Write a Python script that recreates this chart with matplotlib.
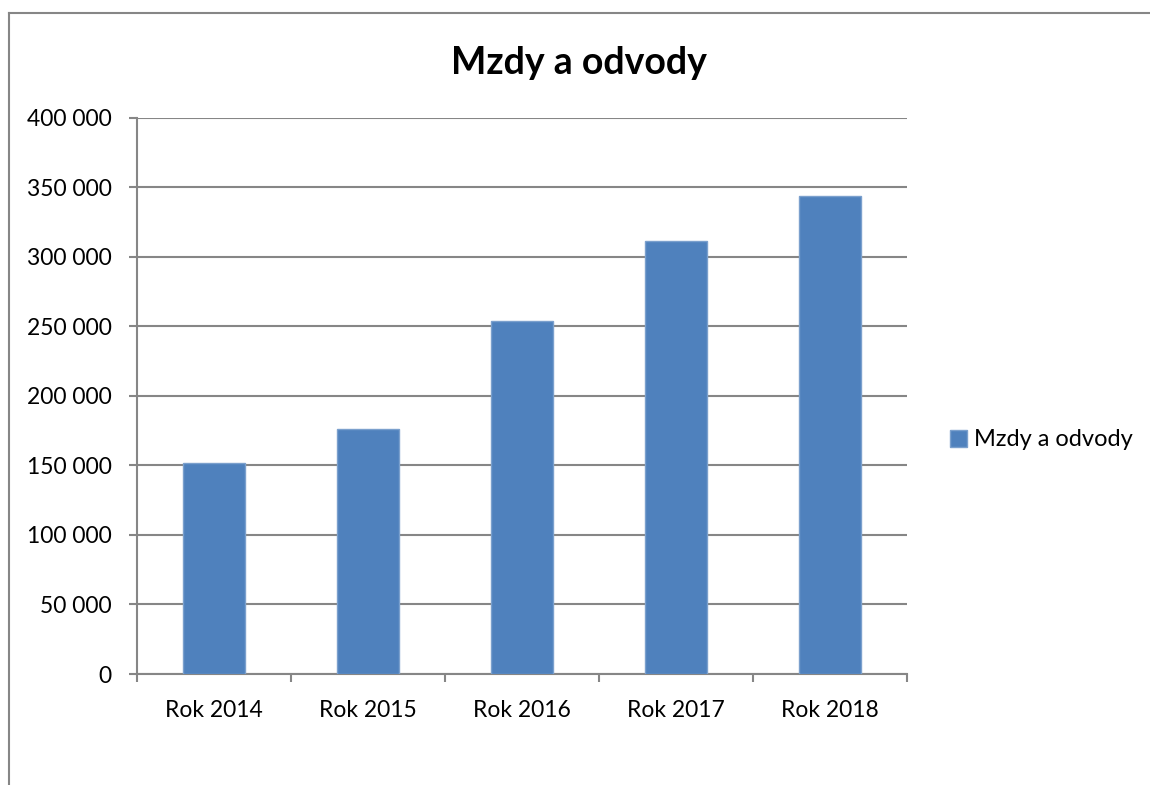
import matplotlib.pyplot as plt
import matplotlib.ticker as mticker
from matplotlib.lines import Line2D
import numpy as np

plt.rcParams['font.family'] = ['Lato', 'DejaVu Sans']

years = ["Rok 2014", "Rok 2015", "Rok 2016", "Rok 2017", "Rok 2018"]
values = [151700, 176300, 253900, 311500, 344000]
series_name = "Mzdy a odvody"

fig = plt.figure(figsize=(11.5, 7.85), dpi=100)
ax = fig.add_axes([0.1191, 0.1414, 0.6696, 0.7083])

# chart outline (only left and top edges are visible in the crop)
fx, fy = 9 / 1150, 1 - 13 / 785
fig.add_artist(Line2D([fx, fx], [0, fy], transform=fig.transFigure, color="#868686", linewidth=1.5))
fig.add_artist(Line2D([fx, 1.01], [fy, fy], transform=fig.transFigure, color="#868686", linewidth=1.5))

x = np.arange(len(years))
ax.bar(x, values, width=0.4, color="#4F81BD", edgecolor="#7BA0CD",
       linewidth=1, label=series_name, zorder=3)

ax.set_xlim(-0.5, len(years) - 0.5)
ax.set_ylim(0, 400000)
ax.yaxis.set_major_locator(mticker.MultipleLocator(50000))
ax.yaxis.set_major_formatter(mticker.FuncFormatter(lambda v, p: f"{int(v):,}".replace(",", " ")))
ax.grid(axis="y", color="#868686", linewidth=1.5, zorder=0)

ax.set_xticks(x)
ax.set_xticklabels(years)
ax.set_xticks(np.arange(-0.5, len(years)), minor=True)
ax.tick_params(axis="x", which="major", length=0, pad=19, labelsize=16.5)
ax.tick_params(axis="x", which="minor", length=6, width=1.5, color="#868686")
ax.tick_params(axis="y", length=6, width=1.5, color="#868686", labelsize=16.5, pad=12)

for s in ["top", "right"]:
    ax.spines[s].set_visible(False)
for s in ["left", "bottom"]:
    ax.spines[s].set_color("#868686")
    ax.spines[s].set_linewidth(1.5)

fig.text(0.5035, 1 - 63 / 785, "Mzdy a odvody", ha="center", va="center",
         fontsize=27, fontweight="bold")

fig.legend(loc="center left", bbox_to_anchor=(0.808, 1 - 440 / 785), frameon=False,
           fontsize=17, handlelength=0.7, handleheight=0.7, handletextpad=0.3)

fig.savefig("out.png", dpi=100)
